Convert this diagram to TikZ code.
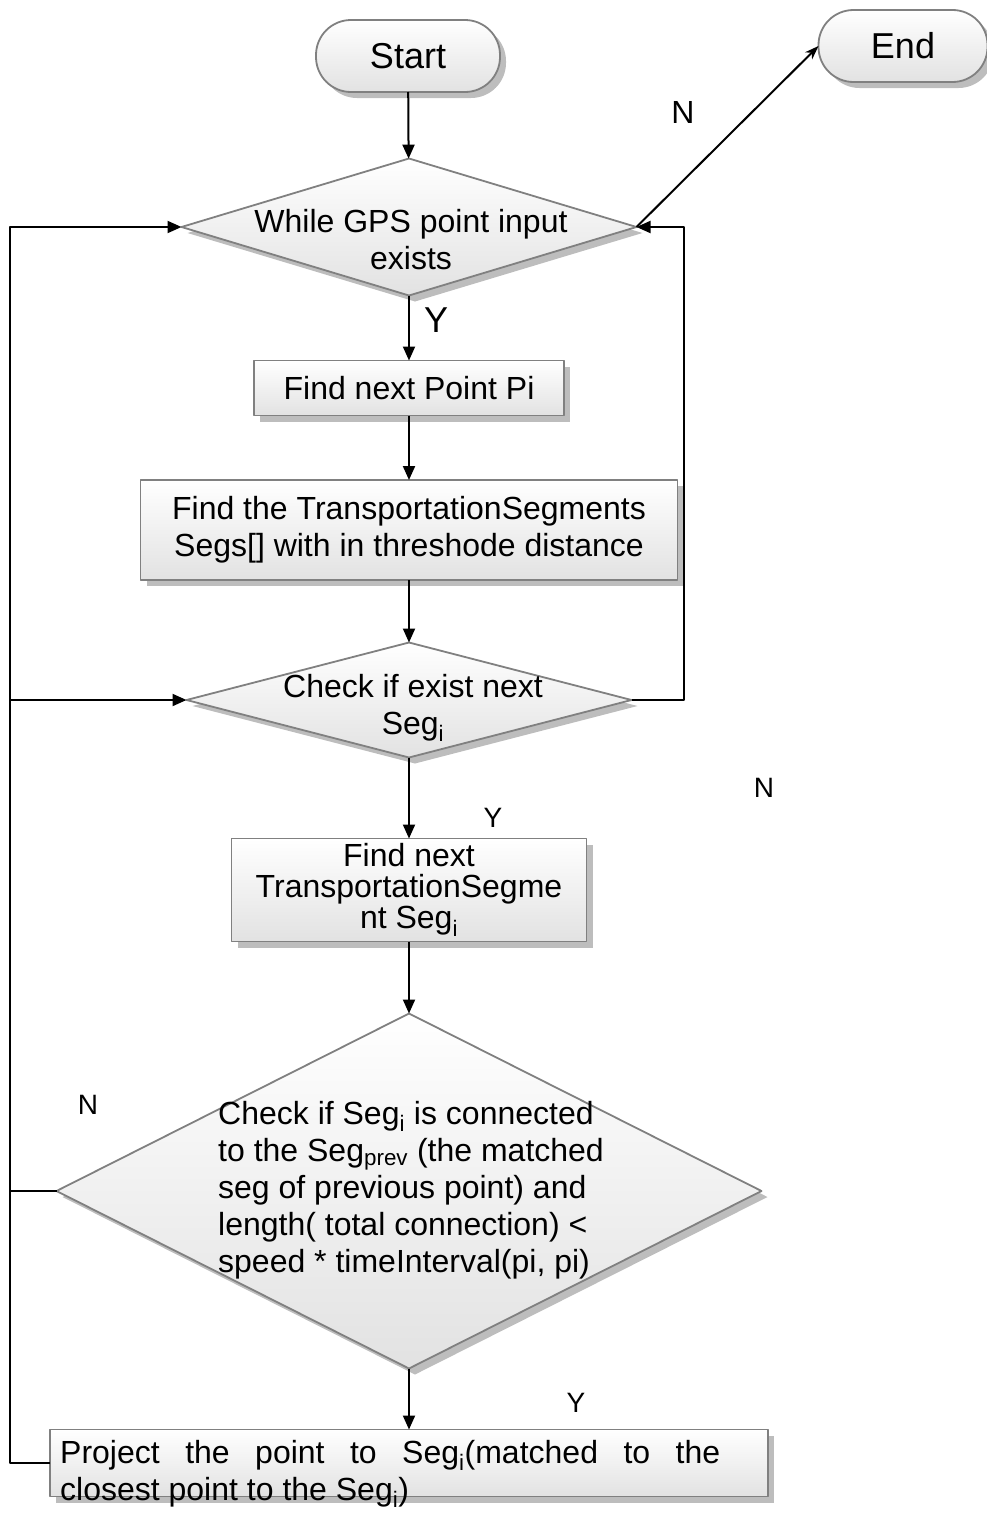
\documentclass[tikz,border=0pt]{standalone}
\usepackage{fontspec}
\setmainfont{Liberation Sans}
\usepackage{tikz}
\usetikzlibrary{arrows.meta,shapes.geometric,shadows}
\definecolor{edgegray}{HTML}{808080}
\definecolor{fillgray}{HTML}{E2E2E2}
\definecolor{shadegray}{HTML}{BDBDBD}
\tikzset{
    every picture/.style={line join=round},
    procbox/.style={draw=edgegray,line width=1.8pt,top color=white,bottom color=fillgray,
      drop shadow={shadow xshift=6pt,shadow yshift=-6pt,fill=shadegray,opacity=1},
      inner sep=0pt,outer sep=0pt,font=\fontsize{32}{37}\selectfont,align=center},
    termnode/.style={procbox,rounded corners=35pt,font=\fontsize{36}{40}\selectfont},
    decnode/.style={procbox,diamond},
    flowtext/.style={font=\fontsize{32}{37}\selectfont,inner sep=0pt},
    flowarrow/.style={-{Triangle[length=14pt,width=12pt]},draw=black,line width=2pt},
    branchlabel/.style={font=\fontsize{28}{32}\selectfont,inner sep=0pt}
}

\begin{document}
\begin{tikzpicture}[x=1pt,y=-1pt]
  \useasboundingbox (0,0) rectangle (987,1523);
  % terminals
  \node[termnode,minimum width=184pt,minimum height=72pt] (start) at (408,56) {Start};
  \node[termnode,minimum width=169pt,minimum height=72pt] (end) at (903,46) {End};
  % main column
  \node[decnode,minimum width=455pt,minimum height=137pt] (d1) at (409,227) {};
  \node[flowtext,align=center] (d1txt) at (411,240) {While GPS point input\\exists};
  \node[procbox,minimum width=310pt,minimum height=55pt] (b1) at (409,388) {Find next Point Pi};
  \node[procbox,minimum width=537pt,minimum height=100pt] (b2) at (409,530)
    {Find the TransportationSegments\\Segs[] with in threshode distance};
  \node[decnode,minimum width=445pt,minimum height=115pt] (d2) at (409,700) {};
  \node[flowtext,align=center] (d2txt) at (413,708) {Check if exist next\\Seg\textsubscript{i}};
  \node[procbox,minimum width=355pt,minimum height=103pt,font=\fontsize{32}{31}\selectfont]
    (b3) at (409,890) {Find next\\TransportationSegme\\nt Seg\textsubscript{i}};
  \node[decnode,minimum width=705pt,minimum height=355pt] (d3) at (409,1191) {};
  \node[flowtext,align=left,anchor=west] (d3txt) at (218,1190)
    {Check if Seg\textsubscript{i} is connected\\
     to the Seg\textsubscript{prev} (the matched\\
     seg of previous point) and\\
     length( total connection) <\\
     speed * timeInterval(pi, pi)};
  \node[procbox,minimum width=718pt,minimum height=67pt] (proj) at (409,1463) {};
  \node[flowtext,anchor=west,align=left] (projtxt) at (60,1474)
    {\hbox to 660pt{Project\hfill the\hfill point\hfill to\hfill
      Seg\textsubscript{i}(matched\hfill to\hfill the}\\
     closest point to the Seg\textsubscript{i})};
  % loop corners
  \coordinate (rturn) at (684,227);
  \coordinate (lturn1) at (10,227);
  \coordinate (lturn2) at (10,700);
  % connectors
  \draw[flowarrow] (start) -- (d1);
  \draw[flowarrow] (d1) -- (b1);
  \draw[flowarrow] (b1) -- (b2);
  \draw[flowarrow] (b2) -- (d2);
  \draw[flowarrow] (d2) -- (b3);
  \draw[flowarrow] (b3) -- (d3);
  \draw[flowarrow] (d3) -- (proj);
  \draw[-{Stealth[length=14pt,width=10pt]},line width=2pt] (d1.east) -- (end.west);
  \draw[flowarrow] (d2.east) -| (rturn) -- (d1.east);
  \draw[flowarrow] (proj.west) -| (lturn1) -- (d1.west);
  \draw[flowarrow] (d3.west) -| (lturn2) -- (d2.west);
  % branch labels
  \node[branchlabel,font=\fontsize{36}{40}\selectfont] (y1) at (436,320) {Y};
  \node[branchlabel,font=\fontsize{32}{36}\selectfont] (n1) at (683,112) {N};
  \node[branchlabel] (n2) at (764,788) {N};
  \node[branchlabel] (y2) at (493,818) {Y};
  \node[branchlabel] (n3) at (88,1105) {N};
  \node[branchlabel] (y3) at (576,1403) {Y};
\end{tikzpicture}
\end{document}
